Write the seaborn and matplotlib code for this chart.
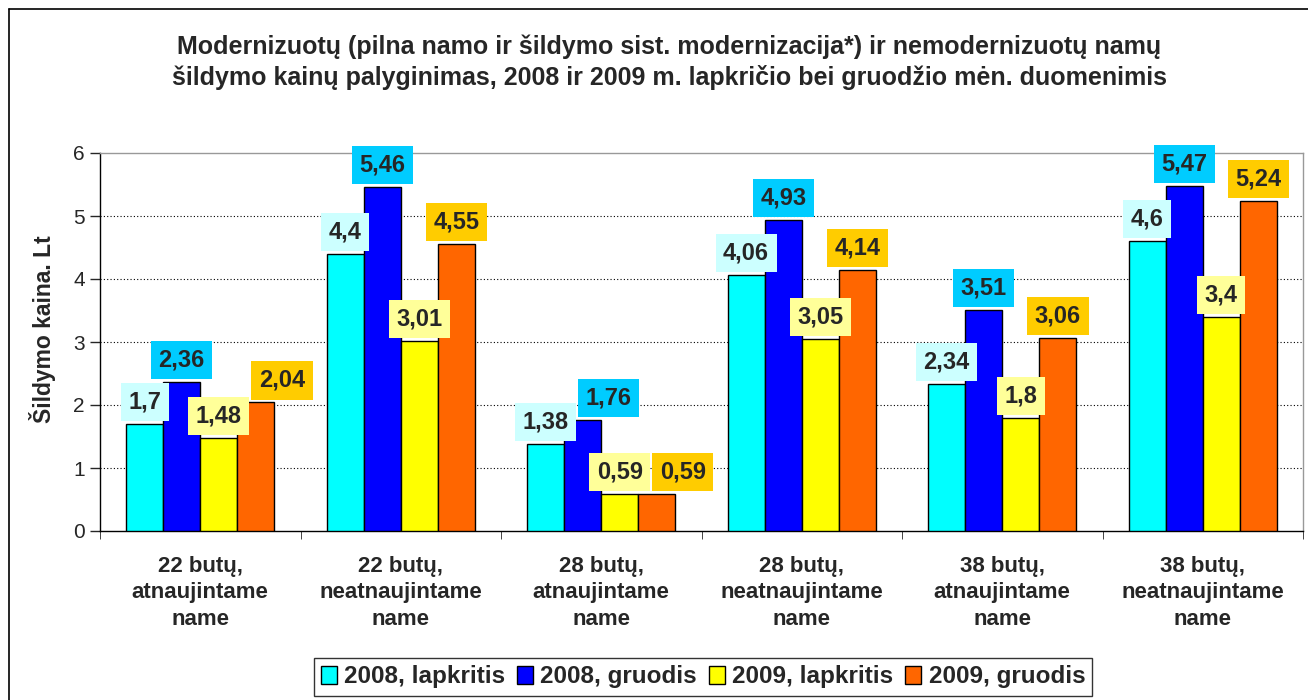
import pandas as pd
import numpy as np
import matplotlib
matplotlib.use("Agg")
import matplotlib.pyplot as plt
from matplotlib.lines import Line2D
from matplotlib.patches import Patch
import seaborn as sns

categories = ["22 butų,\natnaujintame\nname", "22 butų,\nneatnaujintame\nname",
              "28 butų,\natnaujintame\nname", "28 butų,\nneatnaujintame\nname",
              "38 butų,\natnaujintame\nname", "38 butų,\nneatnaujintame\nname"]
series = ["2008, lapkritis", "2008, gruodis", "2009, lapkritis", "2009, gruodis"]
v_2008_lapkritis = [1.7, 4.4, 1.38, 4.06, 2.34, 4.6]
v_2008_gruodis = [2.36, 5.46, 1.76, 4.93, 3.51, 5.47]
v_2009_lapkritis = [1.48, 3.01, 0.59, 3.05, 1.8, 3.4]
v_2009_gruodis = [2.04, 4.55, 0.59, 4.14, 3.06, 5.24]

bar_colors = ["#00FFFF", "#0000FF", "#FFFF00", "#FF6600"]
label_colors = ["#CCFFFF", "#00CCFF", "#FFFF99", "#FFCC00"]

values = [v_2008_lapkritis, v_2008_gruodis, v_2009_lapkritis, v_2009_gruodis]
rows = []
for s, vals in zip(series, values):
    for c, v in zip(categories, vals):
        rows.append({"cat": c, "series": s, "val": v})
df = pd.DataFrame(rows)

sns.set_style("white")
plt.rcParams['font.family'] = ['Liberation Sans', 'DejaVu Sans']

fig = plt.figure(figsize=(13.08, 7), dpi=100)
ax = fig.add_axes([100 / 1308, 1 - 531 / 700, 1203 / 1308, 378 / 700])

sns.barplot(data=df, x="cat", y="val", hue="series", palette=bar_colors,
            width=0.74, edgecolor="black", linewidth=1.0, ax=ax, legend=False,
            saturation=1, zorder=3)

ax.set_ylim(0, 6)
ax.set_xlim(-0.5, len(categories) - 0.5)

# value labels, box bottom sitting on the bar top
px_per_unit = 378 / 6
lab_off = 22 / px_per_unit
labels = [[None] * len(categories) for _ in series]
for i, cont in enumerate(ax.containers):
    for j, (rect, v) in enumerate(zip(cont, values[i])):
        x = rect.get_x() + rect.get_width() / 2
        y = rect.get_height()
        labels[i][j] = ax.text(x, y + lab_off, f"{v:g}".replace(".", ","),
                               ha="center", va="center",
                               fontsize=17, fontweight="bold", zorder=5,
                               bbox=dict(boxstyle="square,pad=0.32", fc=label_colors[i], ec="none"))

# push colliding labels to the right (like excel does)
fig.canvas.draw()
r = fig.canvas.get_renderer()
for j in range(len(categories)):
    for i in range(1, len(series)):
        t = labels[i][j]
        for k in range(i):
            b1 = labels[k][j].get_bbox_patch().get_window_extent(r)
            b2 = t.get_bbox_patch().get_window_extent(r)
            if b1.x1 > b2.x0 and b2.y1 > b1.y0 and b1.y1 > b2.y0:
                dx = (b1.x1 - b2.x0 + 2) / (1203 / 6)
                t.set_x(t.get_position()[0] + dx)

ax.set_yticks(range(0, 7))
ax.tick_params(axis="y", labelsize=15, length=7, direction="out", left=True, width=1, pad=4)
for yv in range(1, 6):
    ax.axhline(yv, color="black", linestyle=(0, (1, 2)), linewidth=0.8, zorder=1)

ax.set_xticks(range(len(categories)))
ax.set_xticklabels(categories, fontsize=16, fontweight="bold", linespacing=1.34)
ax.tick_params(axis="x", length=0, pad=18)
ax.set_xticks(np.arange(-0.5, len(categories), 1), minor=True)
ax.tick_params(axis="x", which="minor", length=6, direction="out", bottom=True)
ax.set_xlabel("")
ax.set_ylabel("Šildymo kaina. Lt", fontsize=16.5, fontweight="bold")
ax.yaxis.set_label_coords(-44 / 1203, 0.535)

for side in ["top", "right"]:
    ax.spines[side].set_color("#999999")
    ax.spines[side].set_linewidth(1)
for side in ["left", "bottom"]:
    ax.spines[side].set_color("black")
    ax.spines[side].set_linewidth(1)

fig.text(669 / 1308, 1 - 47 / 700,
         "Modernizuotų (pilna namo ir šildymo sist. modernizacija*) ir nemodernizuotų namų",
         ha="center", va="center", fontsize=18, fontweight="bold")
fig.text(669 / 1308, 1 - 78 / 700,
         "šildymo kainų palyginimas, 2008 ir 2009 m. lapkričio bei gruodžio mėn. duomenimis",
         ha="center", va="center", fontsize=18, fontweight="bold")

handles = [Patch(facecolor=c, edgecolor="black", label=s) for c, s in zip(bar_colors, series)]
leg = fig.legend(handles=handles, loc="center", bbox_to_anchor=(703 / 1308, 1 - 677 / 700),
                 ncol=4, frameon=True, fancybox=False, handlelength=0.65, handleheight=0.75,
                 handletextpad=0.3, columnspacing=0.5, borderpad=0.3, borderaxespad=0,
                 prop={"size": 17.5, "weight": "bold"})
leg.get_frame().set_edgecolor("black")
leg.get_frame().set_linewidth(1)

# outer chart border (left and top visible)
fig.add_artist(Line2D([8.5 / 1308, 8.5 / 1308], [0, 1 - 9 / 700], color="black",
                      linewidth=1.2, transform=fig.transFigure))
fig.add_artist(Line2D([8.5 / 1308, 1], [1 - 9 / 700, 1 - 9 / 700], color="black",
                      linewidth=1.2, transform=fig.transFigure))

fig.savefig("out.png", dpi=100)
